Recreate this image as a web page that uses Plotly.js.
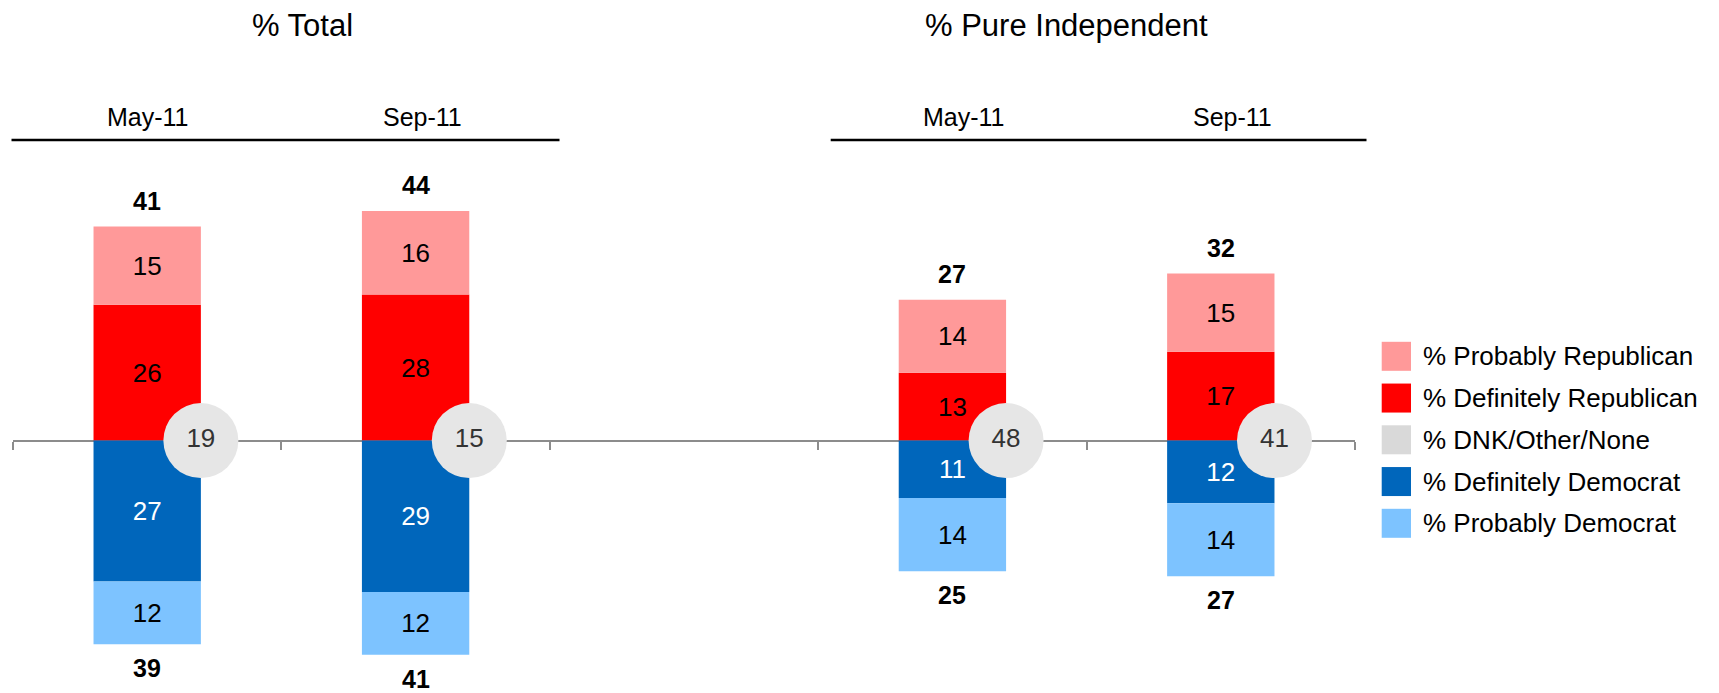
<!DOCTYPE html>
<html>
<head>
<meta charset="utf-8">
<script src="https://cdn.plot.ly/plotly-3.0.1.min.js"></script>
<style>html,body{margin:0;padding:0;background:#fff;}#chart{width:1719px;height:693px;}</style>
</head>
<body>
<div id="chart"></div>
<script>
// ---------- data ----------
const categories = ['May-11', 'Sep-11', '', 'May-11', 'Sep-11'];
const groupTitles = ['% Total', '% Pure Independent'];
const probRep = [15, 16, null, 14, 15];
const defRep  = [26, 28, null, 13, 17];
const dnk     = [19, 15, null, 48, 41];
const defDem  = [27, 29, null, 11, 12];
const probDem = [12, 12, null, 14, 14];
const totalRep = [41, 44, null, 27, 32];
const totalDem = [39, 41, null, 25, 27];
const seriesNames = ['% Probably Republican', '% Definitely Republican', '% DNK/Other/None', '% Definitely Democrat', '% Probably Democrat'];
const seriesColors = ['#FF9999', '#FF0000', '#D9D9D9', '#0066BB', '#7DC3FF'];

// ---------- layout constants ----------
const FONT = 'Liberation Sans, Arial, Helvetica, sans-serif';
const W = 1719, H = 693;
const M = {l: 13, r: 364, t: 143, b: 7};
const plotW = W - M.l - M.r, plotH = H - M.t - M.b;
const YR = [-47, 57];
const BAR_W = 0.4;
const xIdx = categories.map((c, i) => i);
const px2x = px => (px - M.l) / plotW;          // paper x
const py2y = py => (H - M.b - py) / plotH;       // paper y

function barTrace(vals, sign, name, color, txtColor) {
  return {
    type: 'bar', x: xIdx, y: vals.map(v => v == null ? null : sign * v),
    text: vals.map(v => v == null ? '' : String(v)),
    textposition: 'inside', insidetextanchor: 'middle', constraintext: 'none',
    textfont: {family: FONT, size: 26, color: txtColor},
    marker: {color: color, line: {width: 0}},
    width: BAR_W, name: name, showlegend: false, hoverinfo: 'name+text'
  };
}

const traces = [
  barTrace(defRep, 1, seriesNames[1], seriesColors[1], '#000000'),
  barTrace(probRep, 1, seriesNames[0], seriesColors[0], '#000000'),
  barTrace(defDem, -1, seriesNames[3], seriesColors[3], '#FFFFFF'),
  barTrace(probDem, -1, seriesNames[4], seriesColors[4], '#000000')
];

const dIdx = xIdx.filter(i => dnk[i] != null);
traces.push({
  type: 'scatter', mode: 'markers+text', name: seriesNames[2],
  x: dIdx.map(i => i + BAR_W / 2), y: dIdx.map(() => 0),
  text: dIdx.map(i => String(dnk[i])), textposition: 'middle center',
  textfont: {family: FONT, size: 26, color: '#333333'},
  marker: {size: 75, color: '#E6E6E6', line: {width: 0}},
  cliponaxis: false, showlegend: false, hoverinfo: 'name+text'
});

const annotations = [];
const shapes = [];

// totals
xIdx.forEach(i => {
  if (totalRep[i] != null) {
    annotations.push({x: i, y: defRep[i] + probRep[i], xref: 'x', yref: 'y', text: '<b>' + totalRep[i] + '</b>',
      showarrow: false, yanchor: 'middle', yshift: 26, font: {family: FONT, size: 25, color: '#000'}});
  }
  if (totalDem[i] != null) {
    annotations.push({x: i, y: -(defDem[i] + probDem[i]), xref: 'x', yref: 'y', text: '<b>' + totalDem[i] + '</b>',
      showarrow: false, yanchor: 'middle', yshift: -24, font: {family: FONT, size: 25, color: '#000'}});
  }
});

// header wave labels
const headerShift = [1, 7, 0, 12, 12];
xIdx.forEach(i => {
  if (categories[i]) {
    annotations.push({x: i, y: py2y(116.5), xref: 'x', yref: 'paper', text: categories[i], showarrow: false,
      yanchor: 'middle', xshift: headerShift[i], font: {family: FONT, size: 25, color: '#000'}});
  }
});
// group titles
const titleX = [302, 1066];
groupTitles.forEach((t, g) => {
  annotations.push({x: px2x(titleX[g]), y: py2y(25), xref: 'paper', yref: 'paper', text: t, showarrow: false,
    xanchor: 'center', yanchor: 'middle', font: {family: FONT, size: 31, color: '#000'}});
});
// header rules
[[11.5, 559.5], [830.7, 1366.5]].forEach(seg => {
  shapes.push({type: 'line', xref: 'paper', yref: 'paper', x0: px2x(seg[0]), x1: px2x(seg[1]),
    y0: py2y(140), y1: py2y(140), line: {color: '#000', width: 2.5}});
});

// legend
seriesNames.forEach((n, k) => {
  const cy = 356.3 + k * 41.75;
  shapes.push({type: 'rect', xref: 'paper', yref: 'paper', x0: px2x(1381.7), x1: px2x(1411),
    y0: py2y(cy - 14.5), y1: py2y(cy + 14.5), fillcolor: seriesColors[k], line: {width: 0}});
  annotations.push({x: px2x(1421), y: py2y(cy), xref: 'paper', yref: 'paper', text: n, showarrow: false,
    xanchor: 'left', yanchor: 'middle', font: {family: FONT, size: 26, color: '#000'}});
});

const tickvals = [];
for (let i = 0; i <= categories.length; i++) tickvals.push(i - 0.5);

const layout = {
  width: W, height: H, margin: M, paper_bgcolor: '#fff', plot_bgcolor: '#fff',
  barmode: 'relative', showlegend: false, font: {family: FONT, color: '#000'},
  xaxis: {range: [-0.5, categories.length - 0.5], tickmode: 'array', tickvals: tickvals, showticklabels: false,
    ticks: 'outside', ticklen: 8, tickwidth: 2, tickcolor: '#8C8C8C', showline: true, linecolor: '#8C8C8C',
    linewidth: 2, showgrid: false, zeroline: false, anchor: 'free', position: (0 - YR[0]) / (YR[1] - YR[0]),
    layer: 'below traces', fixedrange: true},
  yaxis: {range: YR, visible: false, showgrid: false, zeroline: false, fixedrange: true},
  annotations: annotations, shapes: shapes
};

Plotly.newPlot('chart', traces, layout, {displayModeBar: false, staticPlot: true});
</script>
</body>
</html>
